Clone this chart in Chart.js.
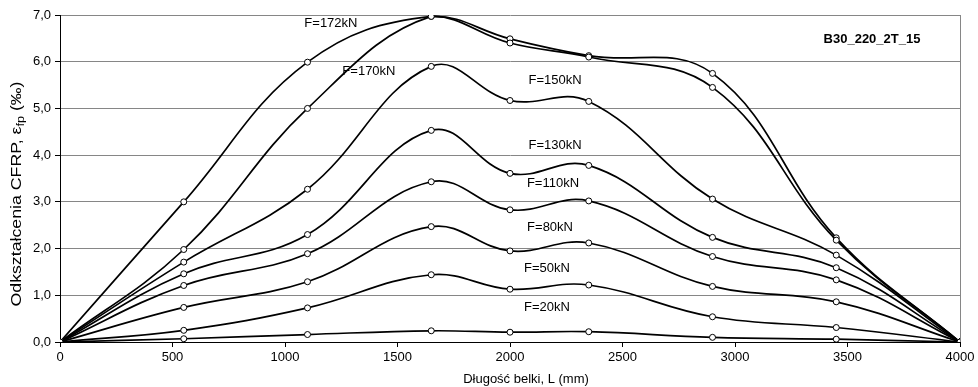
<!DOCTYPE html>
<html>
<head>
<meta charset="utf-8">
<script src="https://cdn.jsdelivr.net/npm/chart.js@4/dist/chart.umd.min.js"></script>
<style>
html,body{margin:0;padding:0;background:#fff;}
#wrap{width:978px;height:387px;}
</style>
</head>
<body>
<div id="wrap"><canvas id="c" width="978" height="387"></canvas></div>
<script>
// ---- data ----
const positionsMm = [0, 550, 1100, 1650, 2000, 2350, 2900, 3450, 4000];
const seriesNames = ["F=20kN", "F=50kN", "F=80kN", "F=110kN", "F=130kN", "F=150kN", "F=170kN", "F=172kN"];
const strainF20  = [0, 0.07, 0.16, 0.24, 0.21, 0.22, 0.10, 0.06, 0];
const strainF50  = [0, 0.25, 0.73, 1.44, 1.13, 1.22, 0.54, 0.31, 0];
const strainF80  = [0, 0.74, 1.29, 2.47, 1.95, 2.12, 1.19, 0.86, 0];
const strainF110 = [0, 1.21, 1.89, 3.43, 2.83, 3.02, 1.83, 1.33, 0];
const strainF130 = [0, 1.46, 2.30, 4.53, 3.61, 3.78, 2.24, 1.59, 0];
const strainF150 = [0, 1.71, 3.27, 5.90, 5.17, 5.15, 3.06, 1.86, 0];
const strainF170 = [0, 1.98, 5.00, 6.97, 6.40, 6.10, 5.45, 2.18, 0];
const strainF172 = [0, 3.00, 5.99, 6.97, 6.49, 6.13, 5.75, 2.23, 0];
const xTickValues = [0, 500, 1000, 1500, 2000, 2500, 3000, 3500, 4000];
const yTickValues = [0, 1, 2, 3, 4, 5, 6, 7];
const beamName = "B30_220_2T_15";
const xTitle = "Długość belki, L (mm)";
const yTitleMain = "Odkształcenia CFRP, ε";
const yTitleSub = "fp";
const yTitleEnd = " (‰)";

const allSeries = [strainF20, strainF50, strainF80, strainF110, strainF130, strainF150, strainF170, strainF172];

// label anchor points (in data units) for series names
const labelAnchors = [
  [2164, 0.75], [2164, 1.58], [2178, 2.46], [2191, 3.40],
  [2200, 4.20], [2200, 5.59], [1373, 5.80], [1204, 6.81]
];

const FONT = '"Liberation Sans", Arial, sans-serif';

const datasets = allSeries.map((vals, i) => ({
  label: seriesNames[i],
  data: positionsMm.map((x, j) => ({x: x, y: vals[j]})),
  borderColor: '#000',
  borderWidth: 1.7,
  backgroundColor: '#fff',
  pointRadius: 3,
  pointBorderWidth: 1,
  pointBackgroundColor: '#fff',
  pointBorderColor: '#000',
  tension: 0.4,
  fill: false
}));

const decor = {
  id: 'decor',
  beforeDatasetsDraw(chart) {
    const {ctx, chartArea: a} = chart;
    ctx.save();
    ctx.strokeStyle = '#868686';
    ctx.lineWidth = 1;
    ctx.beginPath();
    ctx.moveTo(Math.round(a.right) + 0.5, a.top);
    ctx.lineTo(Math.round(a.right) + 0.5, a.bottom);
    ctx.stroke();
    ctx.restore();
  },
  afterDraw(chart) {
    const {ctx, scales: {x, y}} = chart;
    ctx.save();
    ctx.fillStyle = '#000';
    ctx.textBaseline = 'middle';
    ctx.textAlign = 'center';
    ctx.font = '13px ' + FONT;
    labelAnchors.forEach((p, i) => {
      ctx.fillText(seriesNames[i], x.getPixelForValue(p[0]), y.getPixelForValue(p[1]));
    });
    ctx.font = 'bold 13px ' + FONT;
    ctx.fillText(beamName, 872, 39);
    ctx.font = '13px ' + FONT;
    ctx.fillText(xTitle, 526, 379);
    // rotated y title with subscript
    ctx.translate(17, 194);
    ctx.rotate(-Math.PI / 2);
    ctx.textAlign = 'left';
    const fMain = '14px ' + FONT, fSub = '10px ' + FONT;
    ctx.font = fMain; const w1 = ctx.measureText(yTitleMain).width;
    ctx.font = fSub;  const w2 = ctx.measureText(yTitleSub).width;
    ctx.font = fMain; const w3 = ctx.measureText(yTitleEnd).width;
    const total = w1 + w2 + w3;
    ctx.scale(225 / total, 1);
    let sx = -total / 2;
    ctx.font = fMain; ctx.fillText(yTitleMain, sx, 0); sx += w1;
    ctx.font = fSub;  ctx.fillText(yTitleSub, sx, 4); sx += w2;
    ctx.font = fMain; ctx.fillText(yTitleEnd, sx, 0);
    ctx.restore();
  }
};

new Chart(document.getElementById('c'), {
  type: 'line',
  data: {datasets},
  plugins: [decor],
  options: {
    responsive: false,
    animation: false,
    devicePixelRatio: 1,
    layout: {padding: {top: 15, right: 18, left: 0, bottom: 0}},
    plugins: {legend: {display: false}, tooltip: {enabled: false}},
    scales: {
      x: {
        type: 'linear', min: 0, max: 4000,
        afterBuildTicks: s => { s.ticks = xTickValues.map(v => ({value: v})); },
        afterFit: s => { s.height = 45; },
        ticks: {color: '#000', font: {size: 13, family: FONT}, padding: 3, maxRotation: 0,
                callback: v => String(v)},
        grid: {drawOnChartArea: false, tickColor: '#000', tickLength: 5},
        border: {color: '#000', width: 1}
      },
      y: {
        min: 0, max: 7,
        afterBuildTicks: s => { s.ticks = yTickValues.map(v => ({value: v})); },
        afterFit: s => { s.width = 60; },
        ticks: {color: '#000', font: {size: 13, family: FONT}, padding: 4,
                callback: v => Number(v).toFixed(1).replace('.', ',')},
        grid: {color: '#868686', tickColor: '#000', tickLength: 5},
        border: {color: '#000', width: 1}
      }
    }
  }
});
</script>
</body>
</html>
